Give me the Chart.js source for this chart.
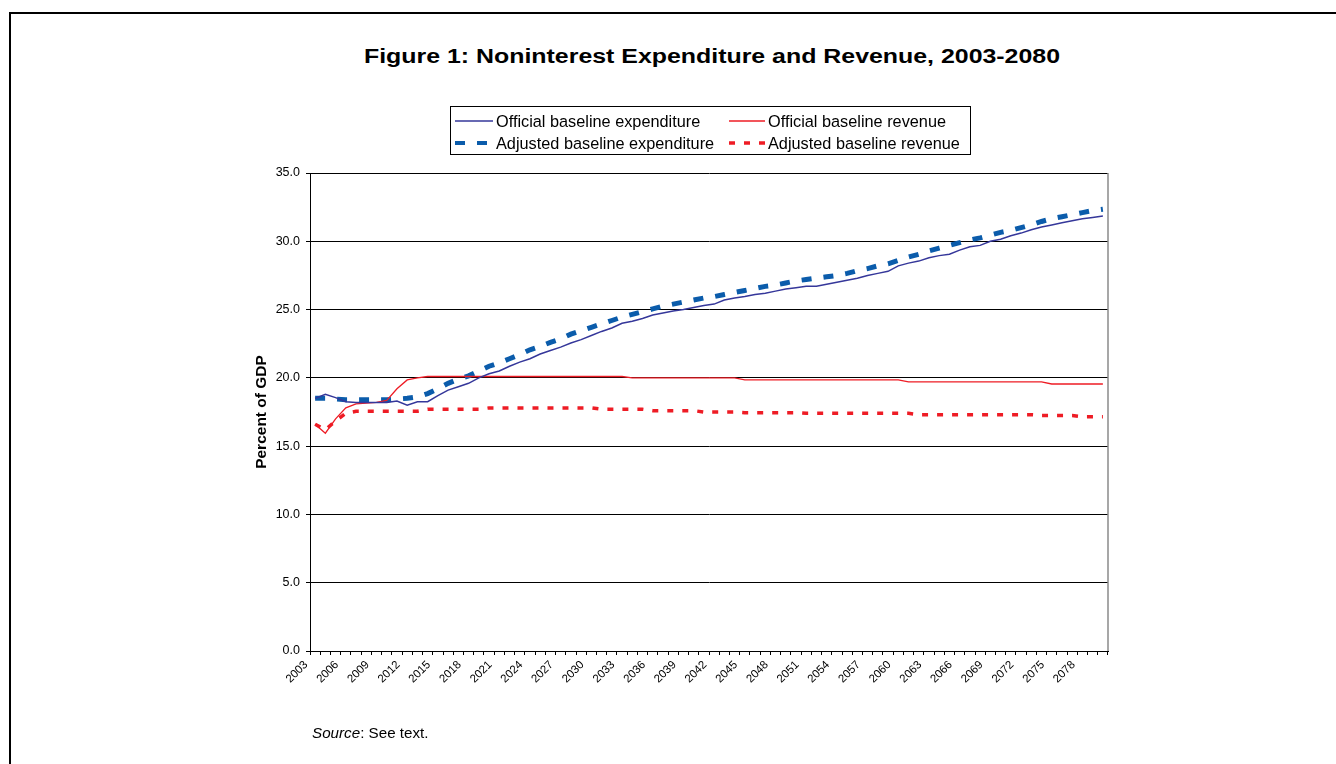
<!DOCTYPE html>
<html>
<head>
<meta charset="utf-8">
<title>Figure 1</title>
<script src="https://cdn.jsdelivr.net/npm/chart.js@4"></script>
<style>
  body { margin: 0; width: 1336px; height: 764px; overflow: hidden; background: #fff;
         font-family: "Liberation Sans", Arial, sans-serif; position: relative; }
  #frame { position: absolute; left: 9px; top: 12px; width: 1400px; height: 800px;
           border-top: 2px solid #000; border-left: 2px solid #000; }
  #title { position: absolute; left: 0; top: 45px; width: 1424px; text-align: center;
           font-weight: bold; font-size: 20px; color: #000;
           transform: scaleX(1.245); transform-origin: 712px 0; }
  #chart { position: absolute; left: 0; top: 0; }
  #legend { position: absolute; left: 450px; top: 106px; width: 519px; height: 47px;
            border: 1px solid #000; font-size: 16.3px; color: #000; }
  .item { position: absolute; white-space: nowrap; }
  .item svg { position: absolute; left: 0; top: 0; }
  .item span { position: absolute; top: 0; line-height: 18px; }
  #source { position: absolute; left: 312px; top: 724px; font-size: 15.2px; color: #000; }
</style>
</head>
<body>
<div id="frame"></div>
<div id="title">Figure 1: Noninterest Expenditure and Revenue, 2003-2080</div>
<canvas id="chart" width="1336" height="764"></canvas>
<div id="legend"></div>
<div id="source"><i>Source</i>: See text.</div>

<script>
const years = [
    2003, 2004, 2005, 2006, 2007, 2008, 2009, 2010, 2011, 2012,
    2013, 2014, 2015, 2016, 2017, 2018, 2019, 2020, 2021, 2022,
    2023, 2024, 2025, 2026, 2027, 2028, 2029, 2030, 2031, 2032,
    2033, 2034, 2035, 2036, 2037, 2038, 2039, 2040, 2041, 2042,
    2043, 2044, 2045, 2046, 2047, 2048, 2049, 2050, 2051, 2052,
    2053, 2054, 2055, 2056, 2057, 2058, 2059, 2060, 2061, 2062,
    2063, 2064, 2065, 2066, 2067, 2068, 2069, 2070, 2071, 2072,
    2073, 2074, 2075, 2076, 2077, 2078, 2079, 2080
];

// percent of GDP, one value per year
const officialExpenditure = [
    18.5, 18.8, 18.55, 18.25, 18.2, 18.2, 18.2, 18.2, 18.3, 18.0,
    18.25, 18.25, 18.7, 19.1, 19.35, 19.6, 20.0, 20.3, 20.5, 20.85,
    21.15, 21.4, 21.75, 22.0, 22.25, 22.55, 22.8, 23.1, 23.4, 23.65,
    24.0, 24.15, 24.35, 24.6, 24.75, 24.9, 25.0, 25.15, 25.3, 25.4,
    25.7, 25.85, 25.95, 26.1, 26.2, 26.35, 26.5, 26.6, 26.7, 26.7,
    26.85, 27.0, 27.15, 27.3, 27.5, 27.65, 27.8, 28.2, 28.4, 28.55,
    28.8, 28.95, 29.05, 29.35, 29.6, 29.7, 30.0, 30.15, 30.4, 30.6,
    30.85, 31.05, 31.2, 31.35, 31.5, 31.65, 31.75, 31.85
];
const officialRevenue = [
    16.6, 15.95, 17.0, 17.8, 18.1, 18.15, 18.2, 18.35, 19.2, 19.85,
    20.0, 20.1, 20.1, 20.1, 20.1, 20.1, 20.1, 20.1, 20.1, 20.1,
    20.1, 20.1, 20.1, 20.1, 20.1, 20.1, 20.1, 20.1, 20.1, 20.1,
    20.1, 20.0, 20.0, 20.0, 20.0, 20.0, 20.0, 20.0, 20.0, 20.0,
    20.0, 20.0, 19.85, 19.85, 19.85, 19.85, 19.85, 19.85, 19.85, 19.85,
    19.85, 19.85, 19.85, 19.85, 19.85, 19.85, 19.85, 19.85, 19.7, 19.7,
    19.7, 19.7, 19.7, 19.7, 19.7, 19.7, 19.7, 19.7, 19.7, 19.7,
    19.7, 19.7, 19.55, 19.55, 19.55, 19.55, 19.55, 19.55
];
const adjustedExpenditure = [
    18.5, 18.5, 18.45, 18.4, 18.4, 18.4, 18.4, 18.4, 18.45, 18.5,
    18.6, 18.85, 19.2, 19.6, 19.9, 20.15, 20.5, 20.85, 21.1, 21.4,
    21.7, 22.05, 22.3, 22.6, 22.85, 23.2, 23.45, 23.7, 23.95, 24.2,
    24.45, 24.65, 24.85, 25.05, 25.25, 25.4, 25.55, 25.7, 25.85, 25.95,
    26.1, 26.25, 26.4, 26.55, 26.7, 26.8, 26.95, 27.1, 27.2, 27.3,
    27.4, 27.5, 27.65, 27.85, 28.0, 28.2, 28.35, 28.6, 28.85, 29.05,
    29.3, 29.5, 29.7, 29.9, 30.1, 30.25, 30.45, 30.65, 30.8, 31.0,
    31.2, 31.45, 31.65, 31.8, 31.95, 32.1, 32.25, 32.35
];
const adjustedRevenue = [
    16.6, 16.2, 16.85, 17.4, 17.55, 17.55, 17.55, 17.55, 17.55, 17.55,
    17.55, 17.7, 17.7, 17.7, 17.7, 17.7, 17.7, 17.8, 17.8, 17.8,
    17.8, 17.8, 17.8, 17.8, 17.8, 17.8, 17.8, 17.8, 17.7, 17.7,
    17.7, 17.7, 17.7, 17.6, 17.6, 17.6, 17.6, 17.6, 17.5, 17.5,
    17.5, 17.5, 17.45, 17.45, 17.45, 17.45, 17.45, 17.45, 17.4, 17.4,
    17.4, 17.4, 17.4, 17.4, 17.4, 17.4, 17.4, 17.4, 17.4, 17.3,
    17.3, 17.3, 17.3, 17.3, 17.3, 17.3, 17.3, 17.3, 17.3, 17.3,
    17.3, 17.25, 17.25, 17.25, 17.25, 17.15, 17.15, 17.15
];

const yTicks = [0, 5, 10, 15, 20, 25, 30, 35];

const NAVY = "#35379a";
const RED = "#ee1c25";
const BLUE = "#0b5cab";
const FONT = "'Liberation Sans', Arial, sans-serif";

const series = [
    { label: "Official baseline expenditure", data: officialExpenditure, color: NAVY, width: 1.5, dash: [] },
    { label: "Official baseline revenue", data: officialRevenue, color: RED, width: 1.3, dash: [] },
    { label: "Adjusted baseline expenditure", data: adjustedExpenditure, color: BLUE, width: 5, dash: [10, 12] },
    { label: "Adjusted baseline revenue", data: adjustedRevenue, color: RED, width: 3.5, dash: [6, 9] }
];

// legend box, 2 x 2
const legend = document.getElementById("legend");
const slots = [[4, 5], [278, 5], [4, 27], [278, 27]];
const sampleW = [38, 36, 38, 36];
series.forEach((s, i) => {
    const div = document.createElement("div");
    div.className = "item";
    div.style.left = slots[i][0] + "px";
    div.style.top = slots[i][1] + "px";
    const w = sampleW[i];
    div.innerHTML = `
        <svg width="${w}" height="18"><line x1="0" y1="9" x2="${w}" y2="9" stroke="${s.color}"
            stroke-width="${Math.min(s.width, 4)}" stroke-dasharray="${s.dash.length ? s.dash.join(' ') : 'none'}"/></svg>
        <span style="left:${w + 3}px">${s.label}</span>`;
    legend.appendChild(div);
});

// grey right edge of the plot area
const plotEdge = {
    id: "plotEdge",
    afterDraw(chart) {
        const a = chart.chartArea;
        const ctx = chart.ctx;
        ctx.save();
        ctx.strokeStyle = "#8a8a8a";
        ctx.lineWidth = 1.5;
        ctx.beginPath();
        ctx.moveTo(a.right, a.top);
        ctx.lineTo(a.right, a.bottom);
        ctx.stroke();
        ctx.restore();
    }
};

new Chart(document.getElementById("chart").getContext("2d"), {
    type: "line",
    data: {
        labels: years,
        datasets: series.map(s => ({
            label: s.label,
            data: s.data,
            borderColor: s.color,
            borderWidth: s.width,
            borderDash: s.dash,
            borderCapStyle: "butt",
            pointRadius: 0,
            tension: 0,
            fill: false
        }))
    },
    options: {
        responsive: false,
        animation: false,
        layout: { padding: { left: 250, right: 228, top: 173, bottom: 53 } },
        plugins: { legend: { display: false }, tooltip: { enabled: false } },
        scales: {
            x: {
                offset: true,
                afterFit: scale => { scale.height = 60; },
                grid: { offset: true, drawOnChartArea: false, tickLength: 4, color: "#000" },
                border: { color: "#000", width: 1 },
                ticks: {
                    autoSkip: false, maxRotation: 45, minRotation: 45, padding: 3, labelOffset: -9,
                    color: "#000", font: { family: FONT, size: 11.5 },
                    callback: (v, i) => (i % 3 === 0 ? String(years[i]) : "")
                }
            },
            y: {
                min: 0, max: 35,
                afterFit: scale => { scale.width = 60; },
                afterBuildTicks: scale => { scale.ticks = yTicks.map(v => ({ value: v })); },
                grid: { color: "#000", lineWidth: 1, tickLength: 4 },
                border: { color: "#000", width: 1 },
                ticks: {
                    padding: 6, color: "#000", font: { family: FONT, size: 12.5 },
                    callback: v => v.toFixed(1)
                },
                title: {
                    display: true, text: "Percent of GDP", color: "#000",
                    font: { family: FONT, size: 15.5, weight: "bold" },
                    padding: { top: 2, bottom: 0 }
                }
            }
        }
    },
    plugins: [plotEdge]
});
</script>
</body>
</html>
